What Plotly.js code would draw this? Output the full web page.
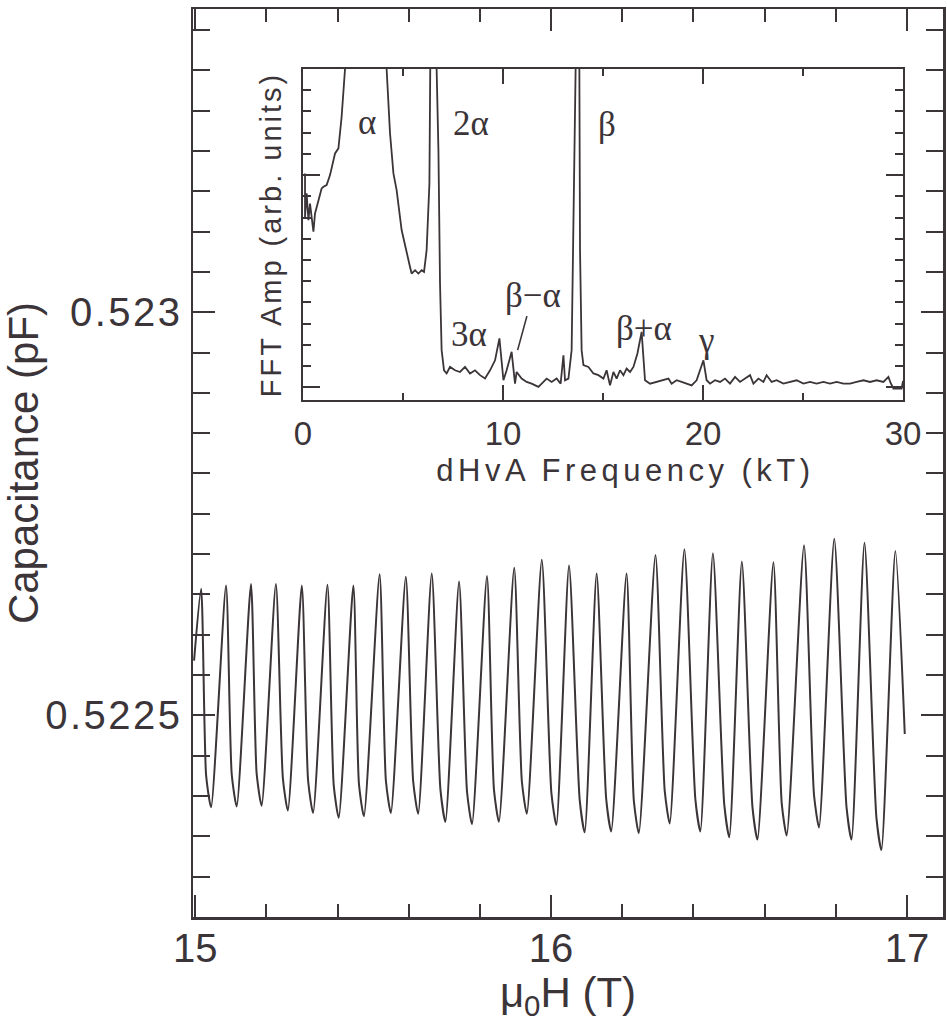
<!DOCTYPE html>
<html>
<head>
<meta charset="utf-8">
<script src="https://cdn.plot.ly/plotly-3.0.1.min.js"></script>
<style>
html,body{margin:0;padding:0;background:#ffffff;}
.annotation[data-index="0"] text{letter-spacing:4.5px;}
.y2title{letter-spacing:3px;}
.ytick text{letter-spacing:2.5px;}
</style>
</head>
<body>
<div id="chart" style="width:947px;height:1023px;"></div>
<script>
// Main panel: capacitance vs field (peaks, shoulders, troughs)
const fieldT = [
  14.997,
  15.0168, 15.0308, 15.0448,
  15.0868, 15.1028, 15.1168,
  15.1569, 15.1728, 15.1868,
  15.2269, 15.2465, 15.2605,
  15.2997, 15.3174, 15.3314,
  15.3717, 15.3894, 15.4034,
  15.4445, 15.4602, 15.4742,
  15.5182, 15.5359, 15.5499,
  15.5919, 15.6126, 15.6266,
  15.6647, 15.6891, 15.7031,
  15.7415, 15.7639, 15.7779,
  15.8199, 15.8395, 15.8535,
  15.8964, 15.9179, 15.9319,
  15.9739, 16.0008, 16.0148,
  16.0504, 16.0804, 16.0944,
  16.1280, 16.1549, 16.1689,
  16.2120, 16.2325, 16.2465,
  16.2933, 16.3193, 16.3333,
  16.3745, 16.4053, 16.4193,
  16.4546, 16.4866, 16.5006,
  16.5359, 16.5658, 16.5798,
  16.6246, 16.6479, 16.6619,
  16.7106, 16.7387, 16.7527,
  16.7955, 16.8300, 16.8440,
  16.8804, 16.9140, 16.9280,
  16.9672, 16.9936
];
const capacitancePF = [
  0.522568,
  0.522657, 0.522426, 0.522386,
  0.522661, 0.522427, 0.522387,
  0.522663, 0.522428, 0.522388,
  0.522663, 0.522422, 0.522382,
  0.522661, 0.522419, 0.522379,
  0.522662, 0.522413, 0.522373,
  0.522661, 0.522415, 0.522375,
  0.522675, 0.522419, 0.522379,
  0.522672, 0.522418, 0.522378,
  0.522676, 0.522408, 0.522368,
  0.522666, 0.522405, 0.522365,
  0.522673, 0.522408, 0.522368,
  0.522683, 0.522418, 0.522378,
  0.522693, 0.522404, 0.522364,
  0.522686, 0.522395, 0.522355,
  0.522676, 0.522396, 0.522356,
  0.522676, 0.522394, 0.522354,
  0.522699, 0.522406, 0.522366,
  0.522706, 0.522396, 0.522356,
  0.522701, 0.522389, 0.522349,
  0.522691, 0.522386, 0.522346,
  0.522690, 0.522391, 0.522351,
  0.522711, 0.522401, 0.522361,
  0.522719, 0.522386, 0.522346,
  0.522714, 0.522373, 0.522333,
  0.522704, 0.522477
];

// Inset: FFT amplitude (arb. units) vs dHvA frequency (kT)
const freqKT = [
  0.1, 0.1, 0.18, 0.27, 0.35, 0.43, 0.52, 0.6, 0.77, 0.93, 1.02, 1.18, 1.35, 1.6, 1.77, 1.93, 2.1,
  3.1, 4.18, 4.35, 4.52, 4.68, 4.93, 5.18, 5.35, 5.43, 5.6, 5.77, 5.93, 6.05, 6.18, 6.32, 6.43,
  6.55, 6.68, 6.77, 6.85, 6.93, 7.05, 7.18,
  7.35, 7.6, 7.85, 8.1, 8.35, 8.6, 8.85, 9.1, 9.35, 9.6, 9.82, 10.02, 10.18, 10.43, 10.6, 10.68,
  10.93, 11.18, 11.43, 11.77, 12.02, 12.18, 12.43, 12.68, 12.88, 13.02, 13.1, 13.27, 13.43, 13.55, 13.63,
  13.72, 13.82, 13.85, 13.93, 14.02, 14.27, 14.52, 14.77, 15.02, 15.18, 15.35, 15.52, 15.68, 15.85,
  16.02, 16.18, 16.35, 16.52, 16.72, 16.93, 17.1,
  17.35, 17.68, 18.02, 18.27, 18.43, 18.68, 18.93, 19.18, 19.43, 19.68, 19.85, 20.02, 20.18, 20.35,
  20.6, 20.85, 21.1, 21.35, 21.6, 21.85, 22.1, 22.35, 22.52, 22.77, 23.02, 23.18, 23.43, 23.68,
  24.02, 24.35, 24.68, 25.02, 25.35, 25.68, 26.02, 26.35, 26.68, 27.02, 27.35, 27.68, 28.02, 28.35,
  28.68, 29.02, 29.27, 29.38, 29.52, 29.93, 30.0
];
const fftAmp = [
  10.08, 8.03, 9.14, 7.88, 8.66, 8.03, 7.33, 8.19, 8.82, 9.37, 9.45, 9.53, 10.0, 11.02, 11.26, 12.75, 15.0,
  40, 15.0, 11.97, 10.08, 9.29, 7.41, 6.46, 5.67, 5.36, 5.52, 5.36, 5.52, 5.44, 6.46, 9.61, 15.0,
  40, 15.0, 11.18, 4.89, 1.75, 0.8, 0.65,
  0.96, 0.8, 0.72, 0.96, 0.65, 0.8, 0.57, 0.41, 0.8, 1.27, 2.3, 0.33, 0.8, 1.67, 0.17, 0.72,
  0.41, 0.25, 0.17, 0.02, 0.25, 0.41, 0.25, 0.41, 0.17, 1.51, 0.33, 0.41, 1.75, 9.61, 15.0,
  40, 15.0, 6.46, 1.75, 1.04, 0.96, 0.65, 0.57, 0.41, 0.8, 0.09, 0.72, 0.41, 0.8,
  0.57, 0.88, 0.72, 0.96, 1.59, 2.61, 0.33,
  0.17, 0.25, 0.33, 0.41, 0.17, 0.33, 0.25, 0.17, 0.09, 0.33, 0.8, 1.27, 0.33, 0.17,
  0.33, 0.25, 0.41, 0.17, 0.49, 0.25, 0.41, 0.57, 0.17, 0.41, 0.25, 0.57, 0.25, 0.33,
  0.17, 0.25, 0.33, 0.17, 0.25, 0.17, 0.25, 0.17, 0.25, 0.17, 0.17, 0.25, 0.33, 0.25,
  0.33, 0.25, 0.49, 0.2, -0.06, -0.06, 0.3
];

// Tick labels
const mainXTickVals = [15, 16, 17];
const mainXTickText = ['15', '16', '17'];
const mainYTickVals = [0.5225, 0.523];
const mainYTickText = ['0.5225', '0.523'];
const insetXTickVals = [0, 10, 20, 30];
const insetXTickText = ['0', '10', '20', '30'];
const insetYTickVals = [0, 10];

// Peak labels
const peakLabels = ['α', '2α', 'β', '3α', 'β−α', 'β+α', 'γ'];

const ink = '#3b3438';
const sans = 'Liberation Sans, Arial, Helvetica, sans-serif';
const serif = 'Liberation Serif, Times New Roman, serif';

const traces = [
  {
    type: 'scatter', mode: 'lines', x: fieldT, y: capacitancePF,
    xaxis: 'x', yaxis: 'y',
    line: {color: ink, width: 2, shape: 'spline', smoothing: 0.6}, hoverinfo: 'skip'
  },
  {
    type: 'scatter', mode: 'lines', x: freqKT, y: fftAmp,
    xaxis: 'x2', yaxis: 'y2',
    line: {color: ink, width: 1.8}, hoverinfo: 'skip'
  }
];

function peakAnn(i, x, y, extra) {
  return Object.assign({
    text: peakLabels[i], xref: 'x2', yref: 'y2', x: x, y: y,
    showarrow: false, xanchor: 'center', yanchor: 'middle',
    font: {family: serif, size: 35, color: ink}
  }, extra || {});
}

const layout = {
  width: 947, height: 1023,
  margin: {l: 193, r: 4, t: 9, b: 106},
  paper_bgcolor: '#ffffff',
  plot_bgcolor: 'rgba(0,0,0,0)',
  showlegend: false,
  font: {family: sans, color: ink},
  xaxis: {
    range: [14.994, 17.101],
    tickmode: 'array', tickvals: mainXTickVals, ticktext: mainXTickText,
    ticks: 'inside', ticklen: 22, tickwidth: 2, tickcolor: ink,
    showline: true, linewidth: 2.5, linecolor: ink, mirror: 'ticks',
    showgrid: false, zeroline: false,
    tickfont: {family: sans, size: 40, color: ink},
    ticklabelstandoff: -6,
    minor: {ticks: 'inside', ticklen: 13, tickwidth: 2, tickcolor: ink, tick0: 15, dtick: 0.2, showgrid: false},
    title: {text: 'μ<sub>0</sub>H (T)', font: {family: sans, size: 42, color: ink}, standoff: 0}
  },
  yaxis: {
    range: [0.52225, 0.523376],
    tickmode: 'array', tickvals: mainYTickVals, ticktext: mainYTickText,
    ticks: 'inside', ticklen: 22, tickwidth: 2, tickcolor: ink,
    showline: true, linewidth: 2.5, linecolor: ink, mirror: 'ticks',
    showgrid: false, zeroline: false,
    tickfont: {family: sans, size: 40, color: ink},
    minor: {ticks: 'inside', ticklen: 17, tickwidth: 2, tickcolor: ink, tick0: 0.5225, dtick: 0.00005, showgrid: false},
    title: {text: 'Capacitance (pF)', font: {family: sans, size: 42, color: ink}, standoff: 0}
  },
  xaxis2: {
    domain: [0.1467, 0.9467], anchor: 'y2',
    range: [0, 30],
    tickmode: 'array', tickvals: insetXTickVals, ticktext: insetXTickText,
    ticks: 'inside', ticklen: 15, tickwidth: 2, tickcolor: ink,
    showline: true, linewidth: 2.2, linecolor: ink, mirror: 'ticks',
    showgrid: false, zeroline: false,
    tickfont: {family: sans, size: 33, color: ink},
    ticklabelstandoff: 3,
    minor: {ticks: 'inside', ticklen: 7, tickwidth: 2, tickcolor: ink, tick0: 0, dtick: 5, showgrid: false}
  },
  yaxis2: {
    domain: [0.5694, 0.9339], anchor: 'x2',
    range: [-0.6, 15],
    tickmode: 'array', tickvals: insetYTickVals,
    showticklabels: false,
    ticks: 'inside', ticklen: 17, tickwidth: 2, tickcolor: ink,
    showline: true, linewidth: 2.2, linecolor: ink, mirror: 'ticks',
    showgrid: false, zeroline: false,
    minor: {ticks: 'inside', ticklen: 8, tickwidth: 2, tickcolor: ink, tick0: 0, dtick: 1, showgrid: false},
    title: {text: 'FFT Amp (arb. units)', font: {family: sans, size: 29, color: ink}, standoff: 11}
  },
  annotations: [
    {
      text: 'dHvA Frequency (kT)', xref: 'paper', yref: 'paper',
      x: 0.576, y: 0.4912, xanchor: 'center', yanchor: 'middle', showarrow: false,
      font: {family: sans, size: 31, color: ink}
    },
    peakAnn(0, 3.2, 12.5),
    peakAnn(1, 8.4, 12.45),
    peakAnn(2, 15.2, 12.4),
    peakAnn(3, 8.3, 2.5),
    peakAnn(4, 10.73, 1.75, {showarrow: true, arrowhead: 0, arrowwidth: 1.6, arrowcolor: ink, ax: 15, ay: -55, standoff: 0}),
    peakAnn(5, 17.05, 2.78),
    peakAnn(6, 20.15, 2.2)
  ]
};

Plotly.newPlot('chart', traces, layout, {displayModeBar: false, staticPlot: true});
</script>
</body>
</html>
